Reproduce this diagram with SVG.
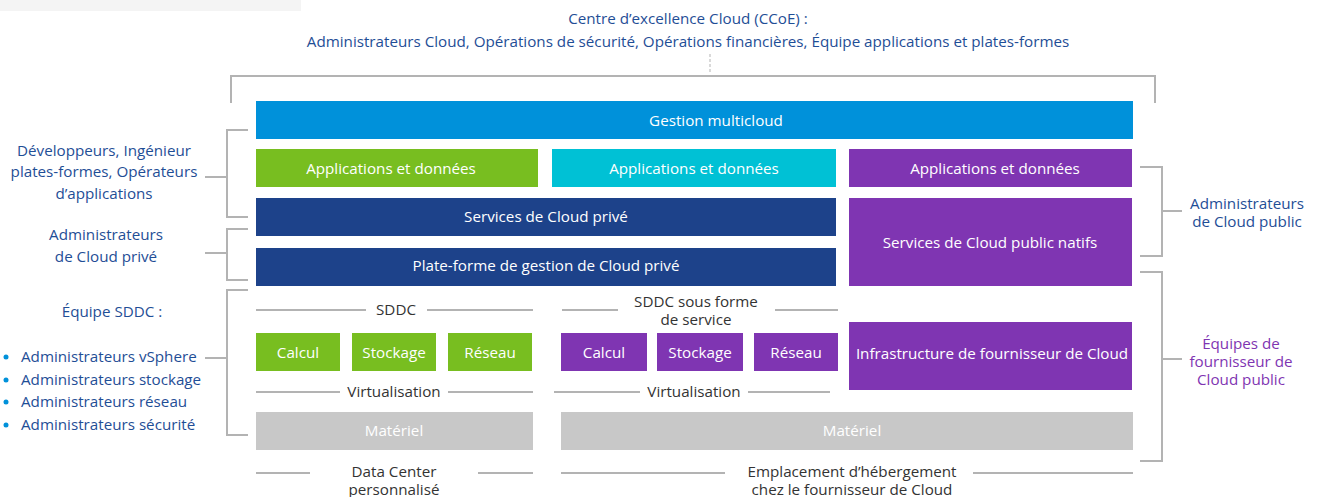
<svg xmlns="http://www.w3.org/2000/svg" width="1318" height="497" viewBox="0 0 1318 497">
<style>
text{font-family:"Open Sans","Liberation Sans",sans-serif;font-size:15.2px;}
.w{fill:#ffffff;text-anchor:middle;}
.b{fill:#1f4e96;}
.c{text-anchor:middle;}
.g{fill:#333333;text-anchor:middle;}
.p{fill:#7f35b2;text-anchor:middle;}
.ln{stroke:#b3b3b3;stroke-width:2;fill:none;}
</style>
<rect x="0" y="0" width="301" height="11" fill="#f4f4f4"/>
<g id="ccoe">
<text class="b c" x="688" y="24">Centre d’excellence Cloud (CCoE) :</text>
<text class="b c" x="688" y="47">Administrateurs Cloud, Opérations de sécurité, Opérations financières, Équipe applications et plates-formes</text>
</g>
<g id="connectors">
<line x1="710" y1="54" x2="710" y2="74" stroke="#b3b3b3" stroke-width="1" stroke-dasharray="3,2"/>
<polyline class="ln" points="231,103 231,76 1155,76 1155,103"/>
<polyline class="ln" points="248,130 227,130 227,217 248,217"/>
<line class="ln" x1="205" y1="177" x2="227" y2="177"/>
<polyline class="ln" points="248,229 227,229 227,280 248,280"/>
<line class="ln" x1="205" y1="253" x2="227" y2="253"/>
<polyline class="ln" points="248,290 227,290 227,435 248,435"/>
<line class="ln" x1="205" y1="358" x2="227" y2="358"/>
<polyline class="ln" points="1140,167 1162,167 1162,256 1140,256"/>
<line class="ln" x1="1162" y1="211" x2="1182" y2="211"/>
<polyline class="ln" points="1140,272 1162,272 1162,461 1140,461"/>
<line class="ln" x1="1162" y1="359" x2="1182" y2="359"/>
<line class="ln" x1="256" y1="310" x2="366" y2="310"/>
<line class="ln" x1="427" y1="310" x2="533" y2="310"/>
<line class="ln" x1="562" y1="310" x2="618" y2="310"/>
<line class="ln" x1="775" y1="310" x2="838" y2="310"/>
<line class="ln" x1="256" y1="392" x2="340" y2="392"/>
<line class="ln" x1="448" y1="392" x2="533" y2="392"/>
<line class="ln" x1="554" y1="392" x2="640" y2="392"/>
<line class="ln" x1="748" y1="392" x2="830" y2="392"/>
<line class="ln" x1="256" y1="473" x2="310" y2="473"/>
<line class="ln" x1="478" y1="473" x2="533" y2="473"/>
<line class="ln" x1="561" y1="473" x2="725" y2="473"/>
<line class="ln" x1="973" y1="473" x2="1133" y2="473"/>
</g>
<g id="multicloud"><rect x="256" y="101" width="877" height="38" fill="#0091da"/><text class="w" x="716" y="126">Gestion multicloud</text></g>
<g id="apps-green"><rect x="256" y="149" width="282" height="38" fill="#78be20"/><text class="w" x="391" y="174">Applications et données</text></g>
<g id="apps-cyan"><rect x="552" y="149" width="284" height="38" fill="#00c1d5"/><text class="w" x="694" y="174">Applications et données</text></g>
<g id="apps-purple"><rect x="849" y="149" width="283" height="38" fill="#7f35b2"/><text class="w" x="995" y="174">Applications et données</text></g>
<g id="private-services"><rect x="256" y="198" width="580" height="38" fill="#1d428a"/><text class="w" x="546" y="222">Services de Cloud privé</text></g>
<g id="private-platform"><rect x="256" y="248" width="580" height="38" fill="#1d428a"/><text class="w" x="546" y="271">Plate-forme de gestion de Cloud privé</text></g>
<g id="public-services"><rect x="849" y="198" width="283" height="88" fill="#7f35b2"/><text class="w" x="990" y="248">Services de Cloud public natifs</text></g>
<g id="sddc-label"><text class="g" x="396" y="315">SDDC</text></g>
<g id="sddcaas-label"><text class="g" x="696" y="307">SDDC sous forme</text><text class="g" x="696" y="325">de service</text></g>
<g id="calcul-g"><rect x="256" y="333" width="84" height="38" fill="#78be20"/><text class="w" x="298" y="358">Calcul</text></g>
<g id="stockage-g"><rect x="352" y="333" width="84" height="38" fill="#78be20"/><text class="w" x="394" y="358">Stockage</text></g>
<g id="reseau-g"><rect x="448" y="333" width="84" height="38" fill="#78be20"/><text class="w" x="490" y="358">Réseau</text></g>
<g id="calcul-p"><rect x="561" y="333" width="86" height="38" fill="#7f35b2"/><text class="w" x="604" y="358">Calcul</text></g>
<g id="stockage-p"><rect x="657" y="333" width="86" height="38" fill="#7f35b2"/><text class="w" x="700" y="358">Stockage</text></g>
<g id="reseau-p"><rect x="754" y="333" width="84" height="38" fill="#7f35b2"/><text class="w" x="796" y="358">Réseau</text></g>
<g id="infra"><rect x="849" y="322" width="283" height="68" fill="#7f35b2"/><text class="w" x="992" y="359">Infrastructure de fournisseur de Cloud</text></g>
<g id="virt-1"><text class="g" x="394" y="397">Virtualisation</text></g>
<g id="virt-2"><text class="g" x="694" y="397">Virtualisation</text></g>
<g id="materiel-1"><rect x="256" y="412" width="277" height="38" fill="#c8c8c8"/><text class="w" x="394" y="436">Matériel</text></g>
<g id="materiel-2"><rect x="561" y="412" width="572" height="38" fill="#c8c8c8"/><text class="w" x="852" y="436">Matériel</text></g>
<g id="dc-label"><text class="g" x="394" y="477">Data Center</text><text class="g" x="394" y="495">personnalisé</text></g>
<g id="host-label"><text class="g" x="852" y="477">Emplacement d’hébergement</text><text class="g" x="852" y="495">chez le fournisseur de Cloud</text></g>
<g id="devs"><text class="b c" x="104" y="156">Développeurs, Ingénieur</text><text class="b c" x="104" y="177">plates-formes, Opérateurs</text><text class="b c" x="104" y="199">d’applications</text></g>
<g id="private-admins"><text class="b c" x="106" y="240">Administrateurs</text><text class="b c" x="106" y="262">de Cloud privé</text></g>
<g id="sddc-team"><text class="b c" x="112" y="317">Équipe SDDC :</text>
<circle cx="6" cy="357" r="2.5" fill="#0091da"/><text class="b" x="21" y="362">Administrateurs vSphere</text>
<circle cx="6" cy="380" r="2.5" fill="#0091da"/><text class="b" x="21" y="385">Administrateurs stockage</text>
<circle cx="6" cy="402" r="2.5" fill="#0091da"/><text class="b" x="21" y="407">Administrateurs réseau</text>
<circle cx="6" cy="425" r="2.5" fill="#0091da"/><text class="b" x="21" y="430">Administrateurs sécurité</text></g>
<g id="public-admins"><text class="b c" x="1247" y="209">Administrateurs</text><text class="b c" x="1247" y="227">de Cloud public</text></g>
<g id="provider-teams"><text class="p" x="1241" y="349">Équipes de</text><text class="p" x="1241" y="367">fournisseur de</text><text class="p" x="1241" y="385">Cloud public</text></g>
</svg>
